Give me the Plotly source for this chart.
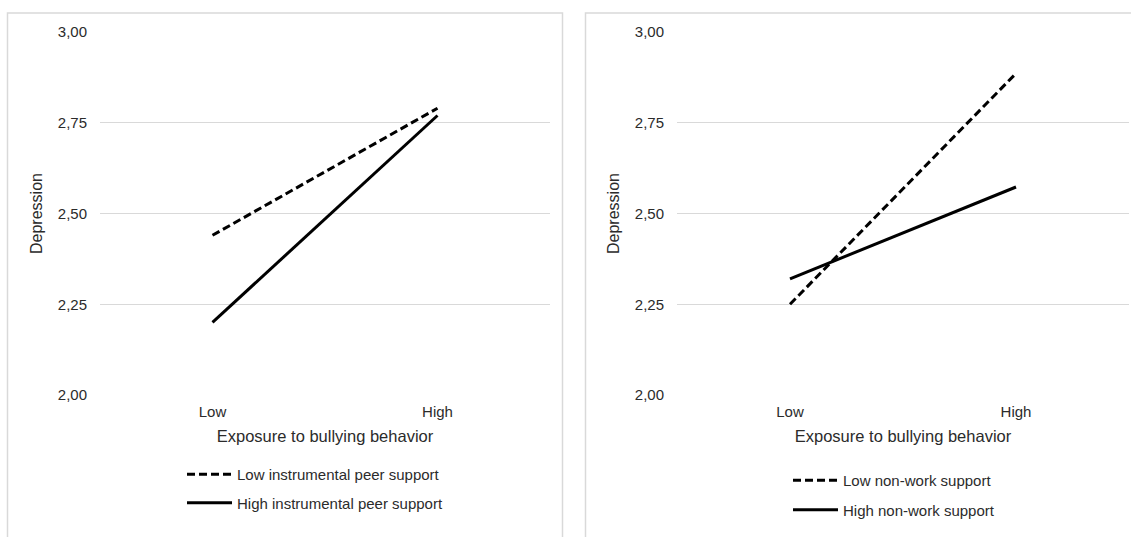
import plotly.graph_objects as go

categories = ["Low", "High"]
left_low_support = [2.44, 2.79]
left_high_support = [2.20, 2.77]
right_low_support = [2.25, 2.886]
right_high_support = [2.32, 2.573]
left_names = ["Low instrumental peer support", "High instrumental peer support"]
right_names = ["Low non-work support", "High non-work support"]
y_ticks = [2.0, 2.25, 2.5, 2.75, 3.0]
x_title = "Exposure to bullying behavior"
y_title = "Depression"

W, H = 1131, 537
FONT = "Liberation Sans, Arial, sans-serif"
TXT = "#2b2b2b"
GRID = "#d9d9d9"

fig = go.Figure()
dash = "8px,4px"
fig.add_trace(go.Scatter(x=categories, y=left_low_support, mode="lines", name=left_names[0],
                         line=dict(color="black", width=3, dash=dash), xaxis="x", yaxis="y",
                         legend="legend", legendgroup="a"))
fig.add_trace(go.Scatter(x=categories, y=left_high_support, mode="lines", name=left_names[1],
                         line=dict(color="black", width=3), xaxis="x", yaxis="y",
                         legend="legend", legendgroup="b"))
fig.add_trace(go.Scatter(x=categories, y=right_low_support, mode="lines", name=right_names[0],
                         line=dict(color="black", width=3, dash=dash), xaxis="x2", yaxis="y2",
                         legend="legend2", legendgroup="c"))
fig.add_trace(go.Scatter(x=categories, y=right_high_support, mode="lines", name=right_names[1],
                         line=dict(color="black", width=3), xaxis="x2", yaxis="y2",
                         legend="legend2", legendgroup="d"))

ydom = [(537 - 395) / H, (537 - 32) / H]
xdom1 = [100 / W, 550 / W]
xdom2 = [677 / W, 1129 / W]

def xaxis(dom, anchor):
    return dict(domain=dom, anchor=anchor, type="category", categoryorder="array",
                categoryarray=categories, range=[-0.5, 1.5], showgrid=False, zeroline=False,
                showline=False, ticks="", ticklabelstandoff=6,
                tickfont=dict(family=FONT, size=15, color=TXT),
                title=dict(text=x_title, font=dict(family=FONT, size=16.5, color=TXT), standoff=11),
                automargin=False, fixedrange=True)

def yaxis(anchor):
    return dict(domain=ydom, anchor=anchor, range=[2, 3], tickvals=y_ticks, tickformat=".2f",
                showgrid=True, gridcolor=GRID, gridwidth=1, zeroline=False, showline=False,
                ticks="", ticklabelstandoff=12,
                tickfont=dict(family=FONT, size=15, color=TXT),
                title=dict(text=y_title, font=dict(family=FONT, size=16, color=TXT), standoff=11),
                automargin=False, fixedrange=True)

shapes = [
    dict(type="rect", xref="paper", yref="paper", x0=7.5 / W, x1=562.5 / W, y0=-0.1,
         y1=(537 - 13) / H, line=dict(color=GRID, width=1.5), fillcolor="rgba(0,0,0,0)", layer="below"),
    dict(type="rect", xref="paper", yref="paper", x0=585.5 / W, x1=1.1, y0=-0.1,
         y1=(537 - 13) / H, line=dict(color=GRID, width=1.5), fillcolor="rgba(0,0,0,0)", layer="below"),
]

leg_common = dict(font=dict(family=FONT, size=15, color=TXT), bgcolor="rgba(0,0,0,0)",
                  itemwidth=45, xanchor="left", yanchor="top",
                  itemclick=False, itemdoubleclick=False)

fig.update_layout(
    width=W, height=H, margin=dict(l=0, r=0, t=0, b=0),
    paper_bgcolor="white", plot_bgcolor="white",
    separators=",.",
    xaxis=xaxis(xdom1, "y"), yaxis=yaxis("x"),
    xaxis2=xaxis(xdom2, "y2"), yaxis2=yaxis("x2"),
    shapes=shapes,
    legend=dict(x=182 / W, y=(537 - 458) / H, tracegroupgap=6, **leg_common),
    legend2=dict(x=788 / W, y=(537 - 464) / H, tracegroupgap=7, **leg_common),
    showlegend=True,
)

fig.write_html("out.html", config={"displayModeBar": False},
               post_script="document.body.style.margin='0px';document.body.style.overflow='hidden';")
